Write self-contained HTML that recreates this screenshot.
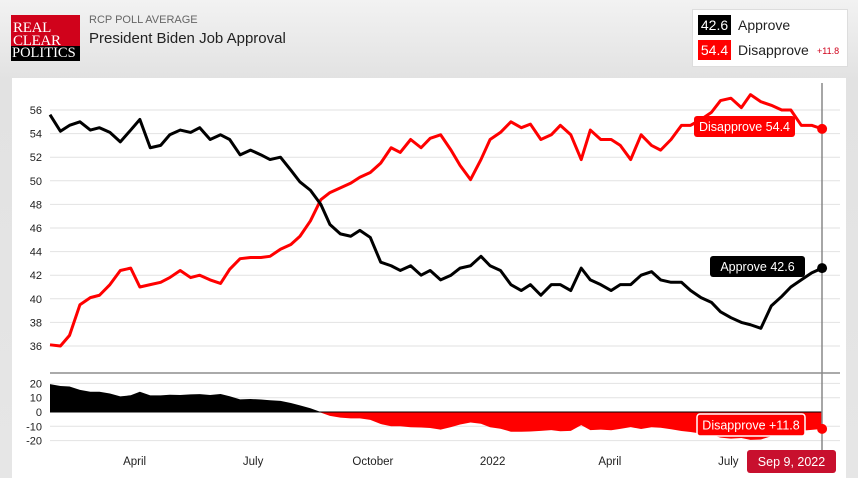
<!DOCTYPE html>
<html><head><meta charset="utf-8"><style>
body{margin:0;width:858px;height:478px;overflow:hidden;background:linear-gradient(#f2f2f2,#e2e2e2 80px,#e6e6e6);font-family:"Liberation Sans",sans-serif;position:relative}
.abs{position:absolute}
</style></head><body>
<div class="abs" style="left:11px;top:15px;width:69px;height:46px;background:#d0021b;">
 <div style="font-family:'Liberation Serif',serif;color:#fff;font-size:15px;line-height:13px;padding:7px 0 0 2px;letter-spacing:-0.3px">REAL<br>CLEAR</div>
 <div style="position:absolute;left:0;bottom:0;width:69px;height:15px;background:#000;color:#fff;font-family:'Liberation Serif',serif;font-size:14.5px;line-height:15px;padding-left:1px;box-sizing:border-box">POLITICS</div>
</div>
<div class="abs" style="left:89px;top:14px;font-size:11px;color:#666">RCP POLL AVERAGE</div>
<div class="abs" style="left:89px;top:30px;font-size:15px;color:#222">President Biden Job Approval</div>
<div class="abs" style="left:692px;top:9px;width:154px;height:56px;background:#fff;border:1px solid #ddd">
 <div style="position:absolute;left:5px;top:5px;width:33px;height:20px;background:#000;color:#fff;font-size:14px;line-height:20px;text-align:center">42.6</div>
 <div style="position:absolute;left:45px;top:7px;font-size:14px;color:#222">Approve</div>
 <div style="position:absolute;left:5px;top:30px;width:33px;height:20px;background:#f00;color:#fff;font-size:14px;line-height:20px;text-align:center">54.4</div>
 <div style="position:absolute;left:45px;top:32px;font-size:14px;color:#222">Disapprove</div>
 <div style="position:absolute;left:124px;top:36px;font-size:9px;color:#d0021b">+11.8</div>
</div>
<div class="abs" style="left:12px;top:78px;width:834px;height:400px;background:#fff"></div>
<svg class="abs" style="left:0;top:0" width="858" height="478" id="chart"></svg>
<script>
const days=[0,8,15,23,31,38,46,54,62,69,77,85,92,100,108,115,123,131,138,146,154,162,169,177,185,192,200,208,215,223,231,238,246,254,262,269,277,285,292,300,308,315,323,331,338,346,354,362,369,377,385,392,400,408,415,423,431,438,446,454,462,469,477,485,492,500,508,515,523,531,538,546,554,562,569,577,585,593];
const approve=[55.6,54.2,54.7,55.0,54.3,54.5,54.1,53.3,54.3,55.2,52.8,53.0,53.9,54.3,54.1,54.5,53.5,53.9,53.5,52.2,52.6,52.2,51.8,52.0,50.9,49.9,49.2,48.0,46.3,45.5,45.3,45.8,45.2,43.1,42.8,42.4,42.8,42.0,42.4,41.6,42.0,42.6,42.8,43.6,42.8,42.4,41.2,40.7,41.2,40.3,41.2,41.2,40.7,42.6,41.6,41.2,40.7,41.2,41.2,42.0,42.3,41.6,41.4,41.4,40.7,40.1,39.7,38.9,38.4,38.0,37.8,37.5,39.4,40.2,41.0,41.6,42.2,42.6];
const disapprove=[36.1,36.0,36.9,39.5,40.1,40.3,41.2,42.4,42.6,41.0,41.2,41.4,41.8,42.4,41.8,42.0,41.6,41.3,42.5,43.4,43.5,43.5,43.6,44.2,44.6,45.3,46.6,48.4,49.0,49.4,49.8,50.3,50.7,51.5,52.8,52.4,53.5,52.8,53.6,53.9,52.6,51.3,50.1,51.8,53.5,54.1,55.0,54.5,54.8,53.5,53.9,54.7,53.9,51.8,54.3,53.5,53.5,53.0,51.8,53.9,53.0,52.6,53.5,54.7,54.7,55.2,55.8,56.8,57.0,56.2,57.3,56.7,56.4,56.0,56.0,54.7,54.7,54.4];
const yTicks=[56,54,52,50,48,46,44,42,40,38,36];
const spreadTicks=[20,10,0,-10,-20];
const monthLabels=["April","July","October","2022","April","July"];
const monthDays=[65,156,248,340,430,521];

const svg=document.getElementById('chart');const NS='http://www.w3.org/2000/svg';
const X=d=>50+d*1.302, Y=v=>110+(56-v)*11.8, YS=v=>412-v*1.43;
function mk(t,a,p){const e=document.createElementNS(NS,t);for(const k in a)e.setAttribute(k,a[k]);(p||svg).appendChild(e);return e;}
yTicks.forEach(v=>{
 const g=mk('line',{x1:50,x2:840,y1:Y(v),y2:Y(v),stroke:'#e2e2e2','stroke-width':1});
 
 
 const t=mk('text',{x:42,y:Y(v)+4,'text-anchor':'end','font-size':11,fill:'#222'});t.textContent=v;
 
 
});
spreadTicks.forEach(v=>{
 if(v!==0){const g=mk('line',{x1:50,x2:840,y1:YS(v),y2:YS(v),stroke:'#e2e2e2'});
 
 }
 const t=mk('text',{x:42,y:YS(v)+4,'text-anchor':'end','font-size':11,fill:'#222'});t.textContent=v;
 
 
});
const sep=mk('line',{x1:50,x2:840,y1:373,y2:373,stroke:'#aaa','stroke-width':2});


monthLabels.forEach((m,i)=>{const t=mk('text',{x:X(monthDays[i]),y:465,'text-anchor':'middle','font-size':11.5,fill:'#222'});t.textContent=m;
 
 });
const spread=approve.map((a,i)=>a-disapprove[i]);
let pos='M'+X(days[0])+','+YS(0),neg=pos;
spread.forEach((s,i)=>{pos+=' L'+X(days[i])+','+YS(Math.max(s,0));neg+=' L'+X(days[i])+','+YS(Math.min(s,0));});
pos+=' L'+X(days[days.length-1])+','+YS(0)+'Z';neg+=' L'+X(days[days.length-1])+','+YS(0)+'Z';
const pa=mk('path',{d:pos,fill:'#000'});
const na=mk('path',{d:neg,fill:'#f00'});
const zl=mk('line',{x1:50,x2:X(days[days.length-1]),y1:YS(0),y2:YS(0),stroke:'#000','stroke-width':1});

const vl=mk('line',{x1:822,x2:822,y1:83,y2:460,stroke:'#888','stroke-width':1.5});

function line(arr,col,name){const d=arr.map((v,i)=>(i?'L':'M')+X(days[i])+','+Y(v)).join(' ');
 const p=mk('path',{d:d,fill:'none',stroke:col,'stroke-width':3,'stroke-linejoin':'round'});
 }
line(disapprove,'#f00','disapprove-line');line(approve,'#000','approve-line');
const last=days.length-1;
const d1=mk('circle',{cx:X(days[last]),cy:Y(disapprove[last]),r:5,fill:'#f00'});
const d2=mk('circle',{cx:X(days[last]),cy:Y(approve[last]),r:5,fill:'#000'});
const d3=mk('circle',{cx:X(days[last]),cy:YS(spread[last]),r:5,fill:'#f00'});
function label(x,y,w,h,bg,txt,name,border){
 const g=mk('g',{});
 mk('rect',{x:x,y:y,width:w,height:h,rx:3,fill:bg,stroke:border||'none','stroke-width':border?1.5:0},g);
 const t=mk('text',{x:x+w/2,y:y+h/2+4.5,'text-anchor':'middle','font-size':12.5,fill:'#fff'},g);t.textContent=txt;}
label(694,116,101,21,'#f00','Disapprove 54.4','disapprove-label');
label(710,256,95,21,'#000','Approve 42.6','approve-label');
label(697,414,108,22,'#f00','Disapprove +11.8','spread-label','#fff');
label(747,450,89,23,'#c8102e','Sep 9, 2022','date-label');
</script>
</body></html>
